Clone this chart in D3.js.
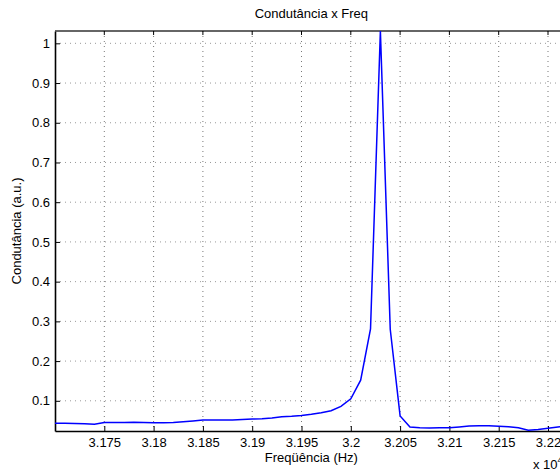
<!DOCTYPE html>
<html>
<head>
<meta charset="utf-8">
<script src="https://cdn.jsdelivr.net/npm/d3@7"></script>
<style>
  html, body { margin: 0; padding: 0; overflow: hidden; background: #fff; }
  svg { display: block; font-family: 'Liberation Sans', Arial, sans-serif; }
</style>
</head>
<body>
<div id="svg-container"></div>
<script>
// Data (frequency in units of 10^4 Hz)
var freq = d3.range(53).map(i => +(3.17 + i * 0.001).toFixed(3))
var cond = [
  0.0435, 0.0435, 0.043, 0.0425, 0.041, 0.0455, 0.0455, 0.0455, 0.046, 0.0455,
  0.045, 0.045, 0.0455, 0.047, 0.049, 0.0515, 0.052, 0.0515, 0.052, 0.053,
  0.054, 0.055, 0.057, 0.06, 0.061, 0.063, 0.066, 0.07, 0.075, 0.086,
  0.105, 0.152, 0.281, 1.031, 0.28, 0.062, 0.034, 0.032, 0.0315, 0.032,
  0.032, 0.034, 0.0365, 0.0375, 0.037, 0.036, 0.0345, 0.032, 0.026, 0.028,
  0.031, 0.034, 0.036
]
var xTicks = [3.175, 3.18, 3.185, 3.19, 3.195, 3.2, 3.205, 3.21, 3.215, 3.22]
var yTicks = [0.1, 0.2, 0.3, 0.4, 0.5, 0.6, 0.7, 0.8, 0.9, 1]
var yDomain = [0.024, 1.031]

var data = freq.map((f, i) => ({ f: f, c: cond[i] }))

var svgWidth = 640, svgHeight = 470
var margin = { top: 31, left: 55, bottom: 39 }
var plotW = (d3.max(freq) - d3.min(freq)) * 9860
var height = svgHeight - margin.top - margin.bottom

var svg = d3.select('#svg-container').append('svg')
  .attr('width', svgWidth).attr('height', svgHeight)

var xScale = d3.scaleLinear().domain(d3.extent(freq)).range([0, plotW])
var yScale = d3.scaleLinear().domain(yDomain).range([height, 0])

var g = svg.append('g')
  .attr('transform', 'translate(' + margin.left + ',' + margin.top + ')')

// grid
g.append('g').selectAll('line').data(xTicks).join('line')
  .attr('x1', d => xScale(d)).attr('x2', d => xScale(d))
  .attr('y1', 0).attr('y2', height)
  .attr('stroke', '#777').attr('stroke-dasharray', '1,4')
g.append('g').selectAll('line').data(yTicks).join('line')
  .attr('y1', d => yScale(d)).attr('y2', d => yScale(d))
  .attr('x1', 0).attr('x2', plotW)
  .attr('stroke', '#999').attr('stroke-dasharray', '1,4')

// axes
var xAxis = d3.axisBottom(xScale).tickValues(xTicks).tickSizeInner(-5).tickSizeOuter(0)
  .tickPadding(7).tickFormat(d3.format('~g'))
var gx = g.append('g').attr('transform', 'translate(0,' + height + ')').call(xAxis)
var yAxis = d3.axisLeft(yScale).tickValues(yTicks).tickSizeInner(-5).tickSizeOuter(0)
  .tickPadding(5).tickFormat(d3.format('~g'))
var gy = g.append('g').call(yAxis)
;[gx, gy].forEach(a => {
  a.select('.domain').attr('stroke', '#000').attr('stroke-width', 1.6)
  a.selectAll('.tick line').attr('stroke', '#000')
  a.selectAll('text').attr('font-size', 13).attr('fill', '#000')
    .attr('font-family', "'Liberation Sans', Arial, sans-serif")
})
// top ticks + top border
g.append('line').attr('x1', 0).attr('x2', plotW).attr('y1', 0).attr('y2', 0)
  .attr('stroke', '#333').attr('stroke-width', 1.6)
g.append('g').selectAll('line').data(xTicks).join('line')
  .attr('x1', d => xScale(d)).attr('x2', d => xScale(d))
  .attr('y1', 0).attr('y2', 4).attr('stroke', '#000')

// curve
g.append('path').datum(data)
  .attr('fill', 'none').attr('stroke', '#0000ff').attr('stroke-width', 1.5)
  .attr('d', d3.line().x(d => xScale(d.f)).y(d => yScale(d.c)))

// labels
svg.append('text').attr('x', margin.left + plotW / 2).attr('y', 18)
  .attr('text-anchor', 'middle').attr('font-size', 13).text('Condutância x Freq')
svg.append('text').attr('x', margin.left + plotW / 2).attr('y', 462)
  .attr('text-anchor', 'middle').attr('font-size', 13).text('Freqüência (Hz)')
svg.append('text')
  .attr('transform', 'translate(21,' + (margin.top + height / 2) + ') rotate(-90)')
  .attr('text-anchor', 'middle').attr('font-size', 13).text('Condutância (a.u.)')
var ex = svg.append('text').attr('x', 533).attr('y', 469).attr('font-size', 13)
ex.append('tspan').text('x 10')
ex.append('tspan').attr('dy', -6).attr('font-size', 9).text('4')
</script>
</body>
</html>
